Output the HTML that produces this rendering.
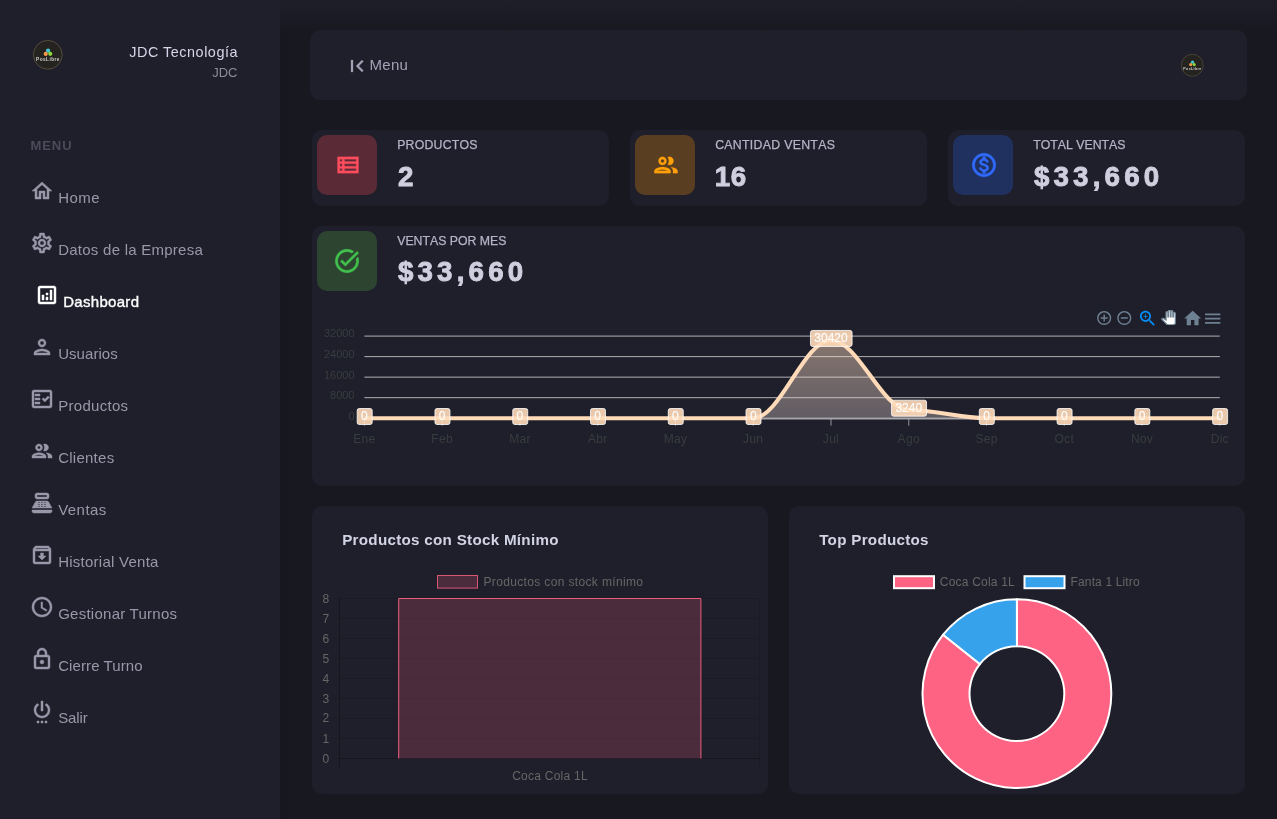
<!DOCTYPE html>
<html lang="es"><head><meta charset="utf-8"><title>Dashboard</title>
<style>
*{box-sizing:border-box;margin:0;padding:0}
html,body{width:1277px;height:819px;overflow:hidden}
body{background:#181821;font-family:"Liberation Sans",sans-serif;position:relative;color:#9898aa}
.abs,.ic,.t,.card,.ibox{position:absolute}
.ic{display:block;overflow:visible}
.t{white-space:nowrap;line-height:1}
.card{background:#1f1f2b;border-radius:10px}
.ibox{width:60px;height:60px;border-radius:10px}
#side{position:absolute;left:0;top:0;width:280px;height:819px;background:#1f1f2b}
a{color:inherit;text-decoration:none}
span.t{display:block}
#sh-l{position:absolute;left:280px;top:0;width:14px;height:819px;background:linear-gradient(90deg,rgba(0,0,0,.07),rgba(0,0,0,0))}
#sh-t{position:absolute;left:280px;top:0;width:997px;height:30px;background:linear-gradient(180deg,#1e1e29 0%,#1d1d28 25%,#181821 100%)}
.mi{font-size:15px;color:#9898aa;letter-spacing:.25px}
.lbl{font-size:12.3px;color:#b4b4c8;letter-spacing:.1px;font-kerning:none;-webkit-text-stroke:.25px #b4b4c8}
.val{font-size:27.7px;font-weight:700;color:#cfcfe0;letter-spacing:4.2px;-webkit-text-stroke:.9px #cfcfe0}
.ttl{font-size:15.2px;font-weight:700;color:#d3d3e6;letter-spacing:.28px}
</style></head>
<body>
<div id="sh-l"></div><div id="sh-t"></div>
<aside id="side">
<svg class="ic" style="left:32.7px;top:40.099999999999994px;width:29.6px;height:29.6px" viewBox="0 0 30 30"><circle cx="15" cy="15" r="14.6" fill="#25231f" stroke="#75694c" stroke-width="0.6"/><circle cx="15.3" cy="10.8" r="2.2" fill="#3fc8cf"/><circle cx="12.9" cy="14.1" r="2.1" fill="#f59a4a"/><circle cx="17.5" cy="14" r="2.1" fill="#8fd63a"/><text x="15.2" y="21" text-anchor="middle" font-family="Liberation Sans, sans-serif" font-size="4.8" font-weight="700" fill="#cfcfcf" letter-spacing="0.45">PosLibre</text></svg>
<div class="t " style="left:0px;top:44.51px;left:auto;right:42px;font-size:14.4px;color:#d6d6ea;letter-spacing:.53px">JDC Tecnología</div>
<div class="t " style="left:0px;top:66.00px;left:auto;right:42.5px;font-size:13px;color:#8b8b9a">JDC</div>
<div class="t " style="left:30.4px;top:139.30px;font-size:13px;font-weight:700;color:#4b4b5b;letter-spacing:.95px">MENU</div>
<nav>
<a><svg class="ic" style="left:30px;top:179px;width:24px;height:24px" viewBox="0 0 24 24"><path fill="#9898aa" stroke="#9898aa" stroke-width="0.45" stroke-linejoin="miter" d="M12 5.69l5 4.5V18h-2v-6H9v6H7v-7.81l5-4.5M12 3L2 12h3v8h6v-6h2v6h6v-8h3L12 3z"/></svg><span class="t mi" style="left:58.2px;top:190.30px;letter-spacing:0.45px">Home</span></a>
<a><svg class="ic" style="left:30px;top:231px;width:24px;height:24px" viewBox="0 0 24 24"><path fill="#9898aa" stroke="#9898aa" stroke-width="0.45" stroke-linejoin="miter" d="M19.43 12.98c.04-.32.07-.64.07-.98 0-.34-.03-.66-.07-.98l2.11-1.65c.19-.15.24-.42.12-.64l-2-3.46c-.09-.16-.26-.25-.44-.25-.06 0-.12.01-.17.03l-2.49 1c-.52-.4-1.08-.73-1.69-.98l-.38-2.65C14.46 2.18 14.25 2 14 2h-4c-.25 0-.46.18-.49.42l-.38 2.65c-.61.25-1.17.59-1.69.98l-2.49-1c-.06-.02-.12-.03-.18-.03-.17 0-.34.09-.43.25l-2 3.46c-.13.22-.07.49.12.64l2.11 1.65c-.04.32-.07.65-.07.98 0 .33.03.66.07.98l-2.11 1.65c-.19.15-.24.42-.12.64l2 3.46c.09.16.26.25.44.25.06 0 .12-.01.17-.03l2.49-1c.52.4 1.08.73 1.69.98l.38 2.65c.03.24.24.42.49.42h4c.25 0 .46-.18.49-.42l.38-2.65c.61-.25 1.17-.59 1.69-.98l2.49 1c.06.02.12.03.18.03.17 0 .34-.09.43-.25l2-3.46c.12-.22.07-.49-.12-.64l-2.11-1.65zm-1.98-1.71c.04.31.05.52.05.73 0 .21-.02.43-.05.73l-.14 1.13.89.7 1.08.84-.7 1.21-1.27-.51-1.04-.42-.9.68c-.43.32-.84.56-1.25.73l-1.06.43-.16 1.13-.2 1.35h-1.4l-.19-1.35-.16-1.13-1.06-.43c-.43-.18-.83-.41-1.23-.71l-.91-.7-1.06.43-1.27.51-.7-1.21 1.08-.84.89-.7-.14-1.13c-.03-.31-.05-.54-.05-.74s.02-.43.05-.73l.14-1.13-.89-.7-1.08-.84.7-1.21 1.27.51 1.04.42.9-.68c.43-.32.84-.56 1.25-.73l1.06-.43.16-1.13.2-1.35h1.39l.19 1.35.16 1.13 1.06.43c.43.18.83.41 1.23.71l.91.7 1.06-.43 1.27-.51.7 1.21-1.07.85-.89.7.14 1.13zM12 8c-2.21 0-4 1.79-4 4s1.79 4 4 4 4-1.79 4-4-1.79-4-4-4zm0 6c-1.1 0-2-.9-2-2s.9-2 2-2 2 .9 2 2-.9 2-2 2z"/></svg><span class="t mi" style="left:58.2px;top:242.30px;letter-spacing:0.25px">Datos de la Empresa</span></a>
<a class="active"><svg class="ic" style="left:35px;top:283.0px;width:24px;height:24px" viewBox="0 0 24 24"><path fill="#ffffff" stroke="#ffffff" stroke-width="0.45" stroke-linejoin="miter" d="M19 3H5c-1.1 0-2 .9-2 2v14c0 1.1.9 2 2 2h14c1.1 0 2-.9 2-2V5c0-1.1-.9-2-2-2zm0 16H5V5h14v14zM7 12h2v5H7zM15 7h2v10h-2zM11 14h2v3h-2zM11 10h2v2h-2z"/></svg><span class="t mi" style="left:63.2px;top:294.30px;color:#fff;-webkit-text-stroke:.35px #fff;letter-spacing:.3px">Dashboard</span></a>
<a><svg class="ic" style="left:30px;top:335px;width:24px;height:24px" viewBox="0 0 24 24"><path fill="#9898aa" stroke="#9898aa" stroke-width="0.45" stroke-linejoin="miter" d="M12 6c1.1 0 2 .9 2 2s-.9 2-2 2-2-.9-2-2 .9-2 2-2m0 10c2.7 0 5.8 1.29 6 2H6c.23-.72 3.31-2 6-2m0-12C9.79 4 8 5.79 8 8s1.79 4 4 4 4-1.79 4-4-1.79-4-4-4zm0 10c-2.67 0-8 1.34-8 4v2h16v-2c0-2.66-5.33-4-8-4z"/></svg><span class="t mi" style="left:58.2px;top:346.30px;letter-spacing:0.05px">Usuarios</span></a>
<a><svg class="ic" style="left:30px;top:387px;width:24px;height:24px" viewBox="0 0 24 24"><path fill="#9898aa" stroke="#9898aa" stroke-width="0.45" stroke-linejoin="miter" d="M20 3H4c-1.1 0-2 .9-2 2v14c0 1.1.9 2 2 2h16c1.1 0 2-.9 2-2V5c0-1.1-.9-2-2-2zm0 16H4V5h16v14zM19.41 10.42L17.99 9l-3.17 3.17-1.41-1.42L12 12.16 14.82 15zM5 7h5v2H5zM5 11h5v2H5zM5 15h5v2H5z"/></svg><span class="t mi" style="left:58.2px;top:398.30px;letter-spacing:0.3px">Productos</span></a>
<a><svg class="ic" style="left:30px;top:439px;width:24px;height:24px" viewBox="0 0 24 24"><path fill="#9898aa" stroke="#9898aa" stroke-width="0.45" stroke-linejoin="miter" d="M9 13.75c-2.34 0-7 1.17-7 3.5V19h14v-1.75c0-2.33-4.66-3.5-7-3.5zM4.34 17c.84-.58 2.87-1.25 4.66-1.25s3.82.67 4.66 1.25H4.34zM9 12c1.93 0 3.5-1.57 3.5-3.5S10.93 5 9 5 5.5 6.57 5.500 8.5 7.070 12 9 12zm0-5c.83 0 1.5.67 1.5 1.5S9.830 10 9 10s-1.5-.67-1.5-1.5S8.170 7 9 7zm7.040 6.810c1.160.84 1.960 1.960 1.960 3.440V19h4v-1.750c0-2.020-3.500-3.170-5.960-3.440zM15 12c1.930 0 3.500-1.570 3.500-3.500S16.930 5 15 5c-.54 0-1.040.13-1.500.35.630.89 1 1.980 1 3.150s-.37 2.260-1 3.150c.46.220.96.350 1.500.350z"/></svg><span class="t mi" style="left:58.2px;top:450.30px;letter-spacing:0.25px">Clientes</span></a>
<a><svg class="ic" style="left:30px;top:491px;width:24px;height:24px" viewBox="0 0 24 24"><path fill="#9898aa" stroke="#9898aa" stroke-width="0.45" stroke-linejoin="miter" d="M17 2H7c-1.1 0-2 .9-2 2v2c0 1.1.9 2 2 2h10c1.1 0 2-.9 2-2V4c0-1.1-.9-2-2-2zm0 4H7V4h10v2zm3 16H4c-1.1 0-2-.9-2-2v-1h20v1c0 1.1-.9 2-2 2zm-1.470-11.190C18.210 10.310 17.660 10 17.060 10H6.940c-.6 0-1.150.31-1.470.81L2 17h20l-3.470-6.190zM9.500 16h-1c-.28 0-.5-.22-.5-.5s.22-.5.5-.5h1c.28 0 .5.22.5.5s-.22.5-.5.5zm0-2h-1c-.28 0-.5-.22-.5-.5s.22-.5.5-.5h1c.28 0 .5.22.5.5s-.22.5-.5.5zm0-2h-1c-.28 0-.5-.22-.5-.5s.22-.5.5-.5h1c.28 0 .5.22.5.5s-.22.5-.5.5zm3 4h-1c-.28 0-.5-.22-.5-.5s.22-.5.5-.5h1c.28 0 .5.22.5.5s-.22.5-.5.5zm0-2h-1c-.28 0-.5-.22-.5-.5s.22-.5.5-.5h1c.28 0 .5.22.5.5s-.22.5-.5.5zm0-2h-1c-.28 0-.5-.22-.5-.5s.22-.5.5-.5h1c.28 0 .5.22.5.5s-.22.5-.5.5zm3 4h-1c-.28 0-.5-.22-.5-.5s.22-.5.5-.5h1c.28 0 .5.22.5.5s-.22.5-.5.5zm0-2h-1c-.28 0-.5-.22-.5-.5s.22-.5.5-.5h1c.28 0 .5.22.5.5s-.22.5-.5.5zm0-2h-1c-.28 0-.5-.22-.5-.5s.22-.5.5-.5h1c.28 0 .5.22.5.5s-.22.5-.5.5z"/></svg><span class="t mi" style="left:58.2px;top:502.30px;letter-spacing:0.45px">Ventas</span></a>
<a><svg class="ic" style="left:30px;top:543px;width:24px;height:24px" viewBox="0 0 24 24"><path fill="#9898aa" stroke="#9898aa" stroke-width="0.45" stroke-linejoin="miter" d="M20.54 5.23l-1.390-1.680C18.880 3.210 18.470 3 18 3H6c-.47 0-.88.21-1.160.55L3.460 5.230C3.170 5.570 3 6.020 3 6.500V19c0 1.100.9 2 2 2h14c1.100 0 2-.9 2-2V6.500c0-.48-.17-.93-.46-1.270zM6.240 5h11.520l.81.970H5.440l.8-.97zM5 19V8h14v11H5zm8.450-9h-2.900v3H8l4 4 4-4h-2.550z"/></svg><span class="t mi" style="left:58.2px;top:554.30px;letter-spacing:0.25px">Historial Venta</span></a>
<a><svg class="ic" style="left:30px;top:595px;width:24px;height:24px" viewBox="0 0 24 24"><path fill="#9898aa" stroke="#9898aa" stroke-width="0.45" stroke-linejoin="miter" d="M11.99 2C6.470 2 2 6.480 2 12s4.470 10 9.990 10C17.520 22 22 17.520 22 12S17.520 2 11.990 2zM12 20c-4.420 0-8-3.580-8-8s3.580-8 8-8 8 3.580 8 8-3.580 8-8 8zm.5-13H11v6l5.250 3.150.75-1.230-4.500-2.670z"/></svg><span class="t mi" style="left:58.2px;top:606.30px;letter-spacing:0.25px">Gestionar Turnos</span></a>
<a><svg class="ic" style="left:30px;top:647px;width:24px;height:24px" viewBox="0 0 24 24"><path fill="#9898aa" stroke="#9898aa" stroke-width="0.45" stroke-linejoin="miter" d="M18 8h-1V6c0-2.760-2.240-5-5-5S7 3.240 7 6v2H6c-1.100 0-2 .9-2 2v10c0 1.100.9 2 2 2h12c1.100 0 2-.9 2-2V10c0-1.100-.9-2-2-2zM9 6c0-1.660 1.340-3 3-3s3 1.340 3 3v2H9V6zm9 14H6V10h12v10zm-6-3c1.100 0 2-.9 2-2s-.9-2-2-2-2 .9-2 2 .9 2 2 2z"/></svg><span class="t mi" style="left:58.2px;top:658.30px;letter-spacing:0.1px">Cierre Turno</span></a>
<a><svg class="ic" style="left:30px;top:699px;width:24px;height:24px" viewBox="0 0 24 24"><path fill="#9898aa" stroke="#9898aa" stroke-width="0.45" stroke-linejoin="miter" d="M7 24h2v-2H7v2zm4 0h2v-2h-2v2zm2-22h-2v10h2V2zm3.560 2.440l-1.450 1.450C16.840 6.940 18 8.830 18 11c0 3.310-2.690 6-6 6s-6-2.690-6-6c0-2.170 1.160-4.060 2.880-5.120L7.440 4.440C5.360 5.880 4 8.280 4 11c0 4.420 3.580 8 8 8s8-3.580 8-8c0-2.720-1.360-5.120-3.440-6.560zM15 24h2v-2h-2v2z"/></svg><span class="t mi" style="left:58.2px;top:710.30px;letter-spacing:-0.1px">Salir</span></a>
</nav></aside>
<header>
<div class="card" style="left:310px;top:30px;width:937px;height:70px"></div>
<svg class="ic" style="left:345.1px;top:54.1px;width:24px;height:24px" viewBox="0 0 24 24"><path fill="#a2a2b6" stroke="#a2a2b6" stroke-width="0.25" stroke-linejoin="miter" d="M18.41 16.59L13.82 12l4.590-4.590L17 6l-6 6 6 6zM6 6h2v12H6z"/></svg>
<div class="t " style="left:369.5px;top:57.10px;font-size:15px;color:#a2a2b6;letter-spacing:.3px">Menu</div>
<svg class="ic" style="left:1180.7px;top:54.10000000000001px;width:22.6px;height:22.6px" viewBox="0 0 30 30"><circle cx="15" cy="15" r="14.6" fill="#25231f" stroke="#75694c" stroke-width="0.6"/><circle cx="15.3" cy="10.8" r="2.2" fill="#3fc8cf"/><circle cx="12.9" cy="14.1" r="2.1" fill="#f59a4a"/><circle cx="17.5" cy="14" r="2.1" fill="#8fd63a"/><text x="15.2" y="21" text-anchor="middle" font-family="Liberation Sans, sans-serif" font-size="4.8" font-weight="700" fill="#cfcfcf" letter-spacing="0.45">PosLibre</text></svg>
</header>
<main>
<div class="card" style="left:312px;top:130px;width:297px;height:76px"></div>
<div class="ibox" style="left:317px;top:135px;background:#5a2a36"></div>
<svg class="ic" style="left:333.6px;top:151px;width:28px;height:28px" viewBox="0 0 24 24"><path fill="#ff4d5e" stroke="#ff4d5e" stroke-width="0.2" stroke-linejoin="miter" d="M3 5v14h18V5H3zm4 2v2H5V7h2zm-2 6v-2h2v2H5zm0 2h2v2H5v-2zm14 2H9v-2h10v2zm0-4H9v-2h10v2zm0-4H9V7h10v2z"/></svg>
<div class="t lbl" style="left:397.2px;top:139.10px;letter-spacing:0.22px">PRODUCTOS</div>
<div class="t val" style="left:397.90000000000003px;top:163.15px;">2</div>
<div class="card" style="left:630px;top:130px;width:297px;height:76px"></div>
<div class="ibox" style="left:635px;top:135px;background:#5a3e21"></div>
<svg class="ic" style="left:651.6px;top:151px;width:28px;height:28px" viewBox="0 0 24 24"><path fill="#ff9f0a" stroke="#ff9f0a" stroke-width="0.2" stroke-linejoin="miter" d="M9 13.75c-2.34 0-7 1.17-7 3.5V19h14v-1.75c0-2.33-4.66-3.5-7-3.5zM4.34 17c.84-.58 2.87-1.25 4.66-1.25s3.82.67 4.66 1.25H4.34zM9 12c1.93 0 3.5-1.57 3.5-3.5S10.93 5 9 5 5.5 6.57 5.500 8.5 7.070 12 9 12zm0-5c.83 0 1.5.67 1.5 1.5S9.830 10 9 10s-1.5-.67-1.5-1.5S8.170 7 9 7zm7.040 6.810c1.160.84 1.960 1.960 1.960 3.440V19h4v-1.750c0-2.020-3.500-3.170-5.960-3.440zM15 12c1.930 0 3.500-1.570 3.500-3.500S16.930 5 15 5c-.54 0-1.040.13-1.500.35.630.89 1 1.980 1 3.150s-.37 2.260-1 3.150c.46.220.96.350 1.500.350z"/></svg>
<div class="t lbl" style="left:715.2px;top:139.10px;letter-spacing:0.3px">CANTIDAD VENTAS</div>
<div class="t val" style="left:714.6999999999999px;top:163.15px;letter-spacing:.6px">16</div>
<div class="card" style="left:948px;top:130px;width:297px;height:76px"></div>
<div class="ibox" style="left:953px;top:135px;background:#20305f"></div>
<svg class="ic" style="left:969.6px;top:151px;width:28px;height:28px" viewBox="0 0 24 24"><path fill="#2f6bff" stroke="#2f6bff" stroke-width="0.45" stroke-linejoin="miter" d="M12 2C6.480 2 2 6.480 2 12s4.480 10 10 10 10-4.480 10-10S17.520 2 12 2zm0 18c-4.410 0-8-3.590-8-8s3.590-8 8-8 8 3.590 8 8-3.590 8-8 8zm.310-8.860c-1.770-.45-2.340-.94-2.340-1.670 0-.84.79-1.430 2.100-1.430 1.380 0 1.900.66 1.940 1.640h1.710c-.05-1.340-.87-2.570-2.490-2.970V5H10.900v1.690c-1.510.32-2.720 1.300-2.720 2.810 0 1.790 1.490 2.690 3.660 3.210 1.950.46 2.340 1.150 2.340 1.870 0 .53-.39 1.390-2.100 1.390-1.600 0-2.230-.72-2.320-1.640H8.040c.1 1.700 1.360 2.660 2.860 2.970V19h2.340v-1.670c1.520-.29 2.720-1.160 2.730-2.770-.010-2.200-1.900-2.960-3.660-3.420z"/></svg>
<div class="t lbl" style="left:1033.2px;top:139.10px;letter-spacing:0px">TOTAL VENTAS</div>
<div class="t val" style="left:1033.8999999999999px;top:163.15px;">$33,660</div>
<div class="card" style="left:312px;top:226px;width:933px;height:260px"></div>
<div class="ibox" style="left:317px;top:231px;background:#2c4430"></div>
<svg class="ic" style="left:333.4px;top:247px;width:28px;height:28px" viewBox="0 0 24 24"><path fill="#42c04d" stroke="#42c04d" stroke-width="0.4" stroke-linejoin="miter" d="M22 5.18L10.590 16.600l-4.240-4.240 1.410-1.410 2.830 2.830 10-10L22 5.180zm-2.210 5.040c.13.570.21 1.170.21 1.780 0 4.420-3.580 8-8 8s-8-3.580-8-8 3.580-8 8-8c1.580 0 3.040.46 4.280 1.250l1.440-1.440C16.100 2.670 14.130 2 12 2 6.480 2 2 6.480 2 12s4.480 10 10 10 10-4.480 10-10c0-1.190-.22-2.330-.600-3.390l-1.610 1.610z"/></svg>
<div class="t lbl" style="left:397.2px;top:234.90px;letter-spacing:0">VENTAS POR MES</div>
<div class="t val" style="left:397.9px;top:258.45px;">$33,660</div>
<svg class="ic" style="left:0;top:0;width:1277px;height:819px" viewBox="0 0 1277 819" font-family="Liberation Sans, sans-serif"><defs><linearGradient id="ag" x1="0" y1="0" x2="0" y2="1"><stop offset="0" stop-color="#ffdab9" stop-opacity=".46"/><stop offset="1" stop-color="#e8d8d6" stop-opacity=".33"/></linearGradient></defs><line x1="364.4" x2="1219.8" y1="336.10" y2="336.10" stroke="#e0e0e0" stroke-width="1" opacity=".75"/><line x1="364.4" x2="1219.8" y1="356.62" y2="356.62" stroke="#e0e0e0" stroke-width="1" opacity=".75"/><line x1="364.4" x2="1219.8" y1="377.15" y2="377.15" stroke="#e0e0e0" stroke-width="1" opacity=".75"/><line x1="364.4" x2="1219.8" y1="397.68" y2="397.68" stroke="#e0e0e0" stroke-width="1" opacity=".75"/><line x1="364.4" x2="1219.8" y1="418.20" y2="418.20" stroke="#e0e0e0" stroke-width="1" opacity=".75"/><text x="354.5" y="337.10" text-anchor="end" font-size="11" fill="#373d3f">32000</text><text x="354.5" y="358.00" text-anchor="end" font-size="11" fill="#373d3f">24000</text><text x="354.5" y="379.10" text-anchor="end" font-size="11" fill="#373d3f">16000</text><text x="354.5" y="399.30" text-anchor="end" font-size="11" fill="#373d3f">8000</text><text x="354.5" y="420.10" text-anchor="end" font-size="11" fill="#373d3f">0</text><line x1="364.40" x2="364.40" y1="419.2" y2="425.7" stroke="#e0e0e0" stroke-width="1" opacity=".6"/><text x="364.40" y="443" text-anchor="middle" font-size="12" letter-spacing=".3" fill="#373d3f">Ene</text><line x1="442.16" x2="442.16" y1="419.2" y2="425.7" stroke="#e0e0e0" stroke-width="1" opacity=".6"/><text x="442.16" y="443" text-anchor="middle" font-size="12" letter-spacing=".3" fill="#373d3f">Feb</text><line x1="519.93" x2="519.93" y1="419.2" y2="425.7" stroke="#e0e0e0" stroke-width="1" opacity=".6"/><text x="519.93" y="443" text-anchor="middle" font-size="12" letter-spacing=".3" fill="#373d3f">Mar</text><line x1="597.69" x2="597.69" y1="419.2" y2="425.7" stroke="#e0e0e0" stroke-width="1" opacity=".6"/><text x="597.69" y="443" text-anchor="middle" font-size="12" letter-spacing=".3" fill="#373d3f">Abr</text><line x1="675.45" x2="675.45" y1="419.2" y2="425.7" stroke="#e0e0e0" stroke-width="1" opacity=".6"/><text x="675.45" y="443" text-anchor="middle" font-size="12" letter-spacing=".3" fill="#373d3f">May</text><line x1="753.22" x2="753.22" y1="419.2" y2="425.7" stroke="#e0e0e0" stroke-width="1" opacity=".6"/><text x="753.22" y="443" text-anchor="middle" font-size="12" letter-spacing=".3" fill="#373d3f">Jun</text><line x1="830.98" x2="830.98" y1="419.2" y2="425.7" stroke="#e0e0e0" stroke-width="1" opacity=".6"/><text x="830.98" y="443" text-anchor="middle" font-size="12" letter-spacing=".3" fill="#373d3f">Jul</text><line x1="908.75" x2="908.75" y1="419.2" y2="425.7" stroke="#e0e0e0" stroke-width="1" opacity=".6"/><text x="908.75" y="443" text-anchor="middle" font-size="12" letter-spacing=".3" fill="#373d3f">Ago</text><line x1="986.51" x2="986.51" y1="419.2" y2="425.7" stroke="#e0e0e0" stroke-width="1" opacity=".6"/><text x="986.51" y="443" text-anchor="middle" font-size="12" letter-spacing=".3" fill="#373d3f">Sep</text><line x1="1064.27" x2="1064.27" y1="419.2" y2="425.7" stroke="#e0e0e0" stroke-width="1" opacity=".6"/><text x="1064.27" y="443" text-anchor="middle" font-size="12" letter-spacing=".3" fill="#373d3f">Oct</text><line x1="1142.04" x2="1142.04" y1="419.2" y2="425.7" stroke="#e0e0e0" stroke-width="1" opacity=".6"/><text x="1142.04" y="443" text-anchor="middle" font-size="12" letter-spacing=".3" fill="#373d3f">Nov</text><line x1="1219.80" x2="1219.80" y1="419.2" y2="425.7" stroke="#e0e0e0" stroke-width="1" opacity=".6"/><text x="1219.80" y="443" text-anchor="middle" font-size="12" letter-spacing=".3" fill="#373d3f">Dic</text><line x1="364.4" x2="1219.8" y1="419.00" y2="419.00" stroke="#e0e0e0" stroke-width="1" opacity=".7"/><path d="M364.40 418.20 C391.62 418.20 414.95 418.20 442.16 418.20 C469.38 418.20 492.71 418.20 519.93 418.20 C547.14 418.20 570.47 418.20 597.69 418.20 C624.91 418.20 648.24 418.20 675.45 418.20 C702.67 418.20 726.00 418.20 753.22 418.20 C780.44 418.20 803.76 340.15 830.98 340.15 C858.20 340.15 881.53 409.89 908.75 409.89 C935.96 409.89 959.29 418.20 986.51 418.20 C1013.73 418.20 1037.06 418.20 1064.27 418.20 C1091.49 418.20 1114.82 418.20 1142.04 418.20 C1169.25 418.20 1192.58 418.20 1219.80 418.20 L1219.80 418.20 L364.40 418.20 Z" fill="url(#ag)" transform="translate(0,0)"/><path d="M364.40 418.20 C391.62 418.20 414.95 418.20 442.16 418.20 C469.38 418.20 492.71 418.20 519.93 418.20 C547.14 418.20 570.47 418.20 597.69 418.20 C624.91 418.20 648.24 418.20 675.45 418.20 C702.67 418.20 726.00 418.20 753.22 418.20 C780.44 418.20 803.76 340.15 830.98 340.15 C858.20 340.15 881.53 409.89 908.75 409.89 C935.96 409.89 959.29 418.20 986.51 418.20 C1013.73 418.20 1037.06 418.20 1064.27 418.20 C1091.49 418.20 1114.82 418.20 1142.04 418.20 C1169.25 418.20 1192.58 418.20 1219.80 418.20" fill="none" stroke="#ffdab9" stroke-width="4" stroke-linecap="butt"/><rect x="357.20" y="408.50" width="15" height="16" rx="2" fill="#ffdab9" fill-opacity=".9" stroke="#fff" stroke-opacity=".8" stroke-width="1"/><text x="364.40" y="420.40" text-anchor="middle" font-size="12" font-weight="400" fill="#fff" stroke="#fff" stroke-width=".12">0</text><rect x="434.96" y="408.50" width="15" height="16" rx="2" fill="#ffdab9" fill-opacity=".9" stroke="#fff" stroke-opacity=".8" stroke-width="1"/><text x="442.16" y="420.40" text-anchor="middle" font-size="12" font-weight="400" fill="#fff" stroke="#fff" stroke-width=".12">0</text><rect x="512.73" y="408.50" width="15" height="16" rx="2" fill="#ffdab9" fill-opacity=".9" stroke="#fff" stroke-opacity=".8" stroke-width="1"/><text x="519.93" y="420.40" text-anchor="middle" font-size="12" font-weight="400" fill="#fff" stroke="#fff" stroke-width=".12">0</text><rect x="590.49" y="408.50" width="15" height="16" rx="2" fill="#ffdab9" fill-opacity=".9" stroke="#fff" stroke-opacity=".8" stroke-width="1"/><text x="597.69" y="420.40" text-anchor="middle" font-size="12" font-weight="400" fill="#fff" stroke="#fff" stroke-width=".12">0</text><rect x="668.25" y="408.50" width="15" height="16" rx="2" fill="#ffdab9" fill-opacity=".9" stroke="#fff" stroke-opacity=".8" stroke-width="1"/><text x="675.45" y="420.40" text-anchor="middle" font-size="12" font-weight="400" fill="#fff" stroke="#fff" stroke-width=".12">0</text><rect x="746.02" y="408.50" width="15" height="16" rx="2" fill="#ffdab9" fill-opacity=".9" stroke="#fff" stroke-opacity=".8" stroke-width="1"/><text x="753.22" y="420.40" text-anchor="middle" font-size="12" font-weight="400" fill="#fff" stroke="#fff" stroke-width=".12">0</text><rect x="810.48" y="330.45" width="41.6" height="16" rx="2" fill="#ffdab9" fill-opacity=".9" stroke="#fff" stroke-opacity=".8" stroke-width="1"/><text x="830.98" y="342.35" text-anchor="middle" font-size="12" font-weight="400" fill="#fff" stroke="#fff" stroke-width=".12">30420</text><rect x="891.55" y="400.19" width="35" height="16" rx="2" fill="#ffdab9" fill-opacity=".9" stroke="#fff" stroke-opacity=".8" stroke-width="1"/><text x="908.75" y="412.09" text-anchor="middle" font-size="12" font-weight="400" fill="#fff" stroke="#fff" stroke-width=".12">3240</text><rect x="979.31" y="408.50" width="15" height="16" rx="2" fill="#ffdab9" fill-opacity=".9" stroke="#fff" stroke-opacity=".8" stroke-width="1"/><text x="986.51" y="420.40" text-anchor="middle" font-size="12" font-weight="400" fill="#fff" stroke="#fff" stroke-width=".12">0</text><rect x="1057.07" y="408.50" width="15" height="16" rx="2" fill="#ffdab9" fill-opacity=".9" stroke="#fff" stroke-opacity=".8" stroke-width="1"/><text x="1064.27" y="420.40" text-anchor="middle" font-size="12" font-weight="400" fill="#fff" stroke="#fff" stroke-width=".12">0</text><rect x="1134.84" y="408.50" width="15" height="16" rx="2" fill="#ffdab9" fill-opacity=".9" stroke="#fff" stroke-opacity=".8" stroke-width="1"/><text x="1142.04" y="420.40" text-anchor="middle" font-size="12" font-weight="400" fill="#fff" stroke="#fff" stroke-width=".12">0</text><rect x="1212.60" y="408.50" width="15" height="16" rx="2" fill="#ffdab9" fill-opacity=".9" stroke="#fff" stroke-opacity=".8" stroke-width="1"/><text x="1219.80" y="420.40" text-anchor="middle" font-size="12" font-weight="400" fill="#fff" stroke="#fff" stroke-width=".12">0</text><g transform="translate(1095.8,309.6) scale(0.7)"><path fill="#6e8192" d="M13 7h-2v4H7v2h4v4h2v-4h4v-2h-4V7zm-1-5C6.48 2 2 6.48 2 12s4.48 10 10 10 10-4.48 10-10S17.52 2 12 2zm0 18c-4.41 0-8-3.59-8-8s3.59-8 8-8 8 3.59 8 8-3.590 8-8 8z"/></g><g transform="translate(1115.9,309.6) scale(0.7)"><path fill="#6e8192" d="M7 11v2h10v-2H7zm5-9C6.48 2 2 6.48 2 12s4.48 10 10 10 10-4.48 10-10S17.52 2 12 2zm0 18c-4.41 0-8-3.59-8-8s3.59-8 8-8 8 3.59 8 8-3.590 8-8 8z"/></g><g transform="translate(1137.4,308.3) scale(0.85)"><path fill="#008ffb" d="M15.5 14h-.79l-.28-.27C15.41 12.59 16 11.11 16 9.5 16 5.91 13.09 3 9.5 3S3 5.91 3 9.5 5.91 16 9.5 16c1.61 0 3.09-.59 4.23-1.57l.27.28v.79l5 4.99L20.49 19l-4.990-5zm-6 0C7.01 14 5 11.99 5 9.5S7.01 5 9.5 5 14 7.01 14 9.5 11.99 14 9.5 14z"/><path fill="#008ffb" d="M12 10h-2v2H9v-2H7V9h2V7h1v2h2v1z"/></g><g transform="translate(1161.1,310.0) scale(0.62)"><clipPath id="pc"><rect x="0" y="0" width="24" height="24"/></clipPath><path clip-path="url(#pc)" fill="#fff" stroke="#6e8192" stroke-width="2" d="M23 5.5V20c0 2.200-1.800 4-4 4h-7.300c-1.080 0-2.100-.43-2.850-1.190L1 14.830s1.260-1.230 1.300-1.250c.22-.19.490-.29.790-.29.220 0 .42.060.6.160.04.010 4.310 2.460 4.310 2.460V4c0-.83.670-1.500 1.500-1.500S11 3.170 11 4v7h1V1.500c0-.83.670-1.500 1.500-1.500S15 .67 15 1.500V11h1V2.500c0-.83.670-1.500 1.500-1.500s1.500.67 1.500 1.500V11h1V5.500c0-.83.670-1.500 1.500-1.500s1.500.67 1.500 1.500z"/></g><g transform="translate(1182.45,308.2) scale(0.85)"><path fill="#6e8192" d="M10 20v-6h4v6h5v-8h3L12 3 2 12h3v8z"/></g><g transform="translate(1202.5,308.5) scale(0.85)"><path fill="#6e8192" d="M3 18h18v-2H3v2zm0-5h18v-2H3v2zm0-7v2h18V6H3z"/></g></svg>
<div class="card" style="left:312px;top:506px;width:456px;height:288px"></div>
<div class="card" style="left:789px;top:506px;width:456px;height:288px"></div>
<h5 class="t ttl" style="left:342.2px;top:532.13px;">Productos con Stock Mínimo</h5>
<h5 class="t ttl" style="left:819.2px;top:532.13px;">Top Productos</h5>
<svg class="ic" style="left:0;top:0;width:1277px;height:819px" viewBox="0 0 1277 819" font-family="Liberation Sans, sans-serif"><line x1="332" x2="340" y1="598.50" y2="598.50" stroke="#000" stroke-opacity=".08" stroke-width="1"/><line x1="340" x2="760" y1="598.50" y2="598.50" stroke="#000" stroke-opacity=".1" stroke-width="1"/><text x="329.3" y="602.50" text-anchor="end" font-size="12" fill="#666">8</text><line x1="332" x2="340" y1="618.50" y2="618.50" stroke="#000" stroke-opacity=".08" stroke-width="1"/><line x1="340" x2="760" y1="618.50" y2="618.50" stroke="#000" stroke-opacity=".1" stroke-width="1"/><text x="329.3" y="622.50" text-anchor="end" font-size="12" fill="#666">7</text><line x1="332" x2="340" y1="638.50" y2="638.50" stroke="#000" stroke-opacity=".08" stroke-width="1"/><line x1="340" x2="760" y1="638.50" y2="638.50" stroke="#000" stroke-opacity=".1" stroke-width="1"/><text x="329.3" y="642.60" text-anchor="end" font-size="12" fill="#666">6</text><line x1="332" x2="340" y1="658.50" y2="658.50" stroke="#000" stroke-opacity=".08" stroke-width="1"/><line x1="340" x2="760" y1="658.50" y2="658.50" stroke="#000" stroke-opacity=".1" stroke-width="1"/><text x="329.3" y="662.70" text-anchor="end" font-size="12" fill="#666">5</text><line x1="332" x2="340" y1="678.50" y2="678.50" stroke="#000" stroke-opacity=".08" stroke-width="1"/><line x1="340" x2="760" y1="678.50" y2="678.50" stroke="#000" stroke-opacity=".1" stroke-width="1"/><text x="329.3" y="682.70" text-anchor="end" font-size="12" fill="#666">4</text><line x1="332" x2="340" y1="698.50" y2="698.50" stroke="#000" stroke-opacity=".08" stroke-width="1"/><line x1="340" x2="760" y1="698.50" y2="698.50" stroke="#000" stroke-opacity=".1" stroke-width="1"/><text x="329.3" y="702.80" text-anchor="end" font-size="12" fill="#666">3</text><line x1="332" x2="340" y1="718.50" y2="718.50" stroke="#000" stroke-opacity=".08" stroke-width="1"/><line x1="340" x2="760" y1="718.50" y2="718.50" stroke="#000" stroke-opacity=".1" stroke-width="1"/><text x="329.3" y="722.40" text-anchor="end" font-size="12" fill="#666">2</text><line x1="332" x2="340" y1="738.50" y2="738.50" stroke="#000" stroke-opacity=".08" stroke-width="1"/><line x1="340" x2="760" y1="738.50" y2="738.50" stroke="#000" stroke-opacity=".1" stroke-width="1"/><text x="329.3" y="743.00" text-anchor="end" font-size="12" fill="#666">1</text><line x1="332" x2="340" y1="758.50" y2="758.50" stroke="#000" stroke-opacity=".08" stroke-width="1"/><line x1="340" x2="760" y1="758.50" y2="758.50" stroke="#000" stroke-opacity=".28" stroke-width="1"/><text x="329.3" y="763.00" text-anchor="end" font-size="12" fill="#666">0</text><line x1="339.5" x2="339.5" y1="598" y2="768" stroke="#000" stroke-opacity=".28" stroke-width="1"/><line x1="759.5" x2="759.5" y1="598" y2="768" stroke="#000" stroke-opacity=".1" stroke-width="1"/><rect x="398.5" y="598.5" width="302.4" height="160" fill="rgb(255,99,132)" fill-opacity=".2"/><path d="M398.7 758.5V598.5H700.9V758.5" fill="none" stroke="rgb(255,99,132)" stroke-width="1" stroke-opacity=".9"/><rect x="437.5" y="575.5" width="40" height="12.6" fill="rgb(255,99,132)" fill-opacity=".2" stroke="rgb(255,99,132)" stroke-opacity=".8" stroke-width="1"/><text x="483.5" y="586" font-size="12" fill="#666" letter-spacing=".35">Productos con stock mínimo</text><text x="550" y="780" text-anchor="middle" font-size="12" fill="#666" letter-spacing=".25">Coca Cola 1L</text><path d="M1016.90 599.20 A94.4 94.4 0 1 1 943.10 634.74 L979.84 664.05 A47.4 47.4 0 1 0 1016.90 646.20 Z" fill="#ff6384" stroke="#fff" stroke-width="2" stroke-linejoin="round"/><path d="M943.10 634.74 A94.4 94.4 0 0 1 1016.90 599.20 L1016.90 646.20 A47.4 47.4 0 0 0 979.84 664.05 Z" fill="#36a2eb" stroke="#fff" stroke-width="2" stroke-linejoin="round"/><rect x="894" y="576.2" width="40" height="12" fill="#ff6384" stroke="#fff" stroke-width="2"/><text x="939.8" y="586" font-size="12" fill="#666" letter-spacing=".2">Coca Cola 1L</text><rect x="1024.5" y="576.2" width="40" height="12" fill="#36a2eb" stroke="#fff" stroke-width="2"/><text x="1070.5" y="586" font-size="12" fill="#666" letter-spacing=".15">Fanta 1 Litro</text></svg>
</main>
</body></html>
